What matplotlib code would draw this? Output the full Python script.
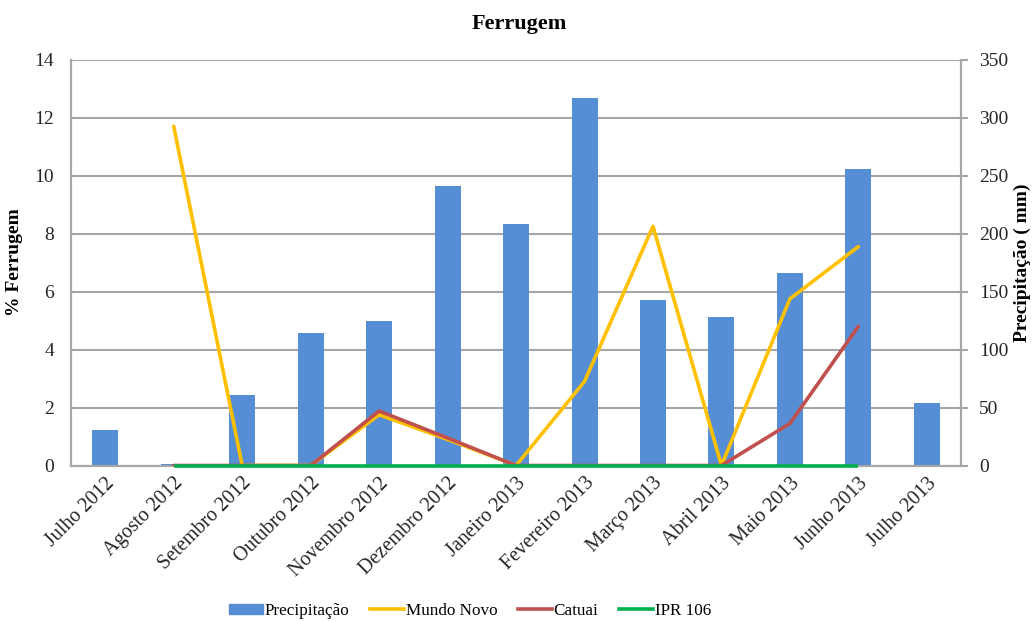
import numpy as np
import matplotlib.pyplot as plt
import matplotlib.transforms as mtransforms
from matplotlib.patches import Patch
from matplotlib.lines import Line2D

plt.rcParams['font.family'] = ['Liberation Serif', 'DejaVu Serif']

# months on the x axis
meses = ['Julho 2012', 'Agosto 2012', 'Setembro 2012', 'Outubro 2012', 'Novembro 2012',
         'Dezembro 2012', 'Janeiro 2013', 'Fevereiro 2013', 'Março 2013', 'Abril 2013',
         'Maio 2013', 'Junho 2013', 'Julho 2013']

# precipitation (mm), right axis
precipitacao = [31, 1.5, 61, 114, 125, 241, 208, 317, 143, 128, 166, 256, 54]

# % ferrugem per cultivar, left axis (nan = no value)
nan = np.nan
mundo_novo = [nan, 11.7, 0, 0, 1.75, 0.9, 0, 2.9, 8.25, 0, 5.75, 7.55, nan]
catuai = [nan, 0, 0, 0, 1.88, 0.95, 0, 0, 0, 0, 1.45, 4.8, nan]
ipr_106 = [nan, 0, 0, 0, 0, 0, 0, 0, 0, 0, 0, 0, nan]

c_bar = '#558ED5'
c_mn = '#FFC000'
c_cat = '#C0504D'
c_ipr = '#00B050'
c_grid = '#A6A6A6'
c_txt = '#262626'

fig = plt.figure(figsize=(10.35, 6.21), dpi=100)
ax = fig.add_axes([0.0686, 0.2504, 0.860, 0.6536])
ax2 = ax.twinx()

x = np.arange(len(meses))

# bars behind, on the precipitation axis
ax2.bar(x, precipitacao, width=0.38, color=c_bar, zorder=2)
ax2.set_ylim(0, 350)
ax2.set_yticks(np.arange(0, 351, 50))
ax2.grid(axis='y', color=c_grid, linewidth=1.5)
ax2.set_axisbelow(True)

# lines in front
ax.set_zorder(ax2.get_zorder() + 1)
ax.patch.set_visible(False)
ax.plot(x, mundo_novo, color=c_mn, lw=2.6, solid_capstyle='round', zorder=3)
ax.plot(x, catuai, color=c_cat, lw=2.6, solid_capstyle='round', zorder=4)
ax.plot(x, ipr_106, color=c_ipr, lw=2.6, solid_capstyle='butt', zorder=5, clip_on=False)
ax.set_ylim(0, 14)
ax.set_yticks(np.arange(0, 15, 2))
ax.set_xlim(-0.5, len(meses) - 0.5)

ax.set_xticks(x)
ax.set_xticklabels(meses, rotation=45, ha='right', rotation_mode='anchor', fontsize=14.5, color=c_txt)
shift = mtransforms.ScaledTranslation(-7 / 100, -8 / 100, fig.dpi_scale_trans)
for lab in ax.get_xticklabels():
    lab.set_transform(lab.get_transform() + shift)
ax.tick_params(axis='x', length=0, pad=6)
ax.tick_params(axis='y', length=0, pad=12, labelsize=14, labelcolor=c_txt)
ax2.tick_params(axis='y', length=5, width=1.5, color=c_grid, pad=8, labelsize=14, labelcolor=c_txt)

for a in (ax, ax2):
    a.spines['top'].set_visible(False)
    for s in ('left', 'right', 'bottom'):
        a.spines[s].set_color(c_grid)
        a.spines[s].set_linewidth(1.5)

ax.set_ylabel('% Ferrugem', fontsize=14, fontweight='bold', labelpad=8)
ax2.set_ylabel('Precipitação ( mm)', fontsize=14, fontweight='bold', labelpad=4)
fig.text(0.502, 0.962, 'Ferrugem', ha='center', va='center', fontsize=16, fontweight='bold')

handles = [Patch(color=c_bar), Line2D([], [], color=c_mn, lw=2.6),
           Line2D([], [], color=c_cat, lw=2.6), Line2D([], [], color=c_ipr, lw=2.6)]
labels = ['Precipitação', 'Mundo Novo', 'Catuai', 'IPR 106']
fig.legend(handles, labels, loc='center', bbox_to_anchor=(0.454, 0.016), ncol=4, frameon=False,
           fontsize=12.3, handlelength=2.0, handleheight=0.55, handletextpad=0.1,
           columnspacing=1.2, borderpad=0)

fig.savefig('out.png', dpi=100)
